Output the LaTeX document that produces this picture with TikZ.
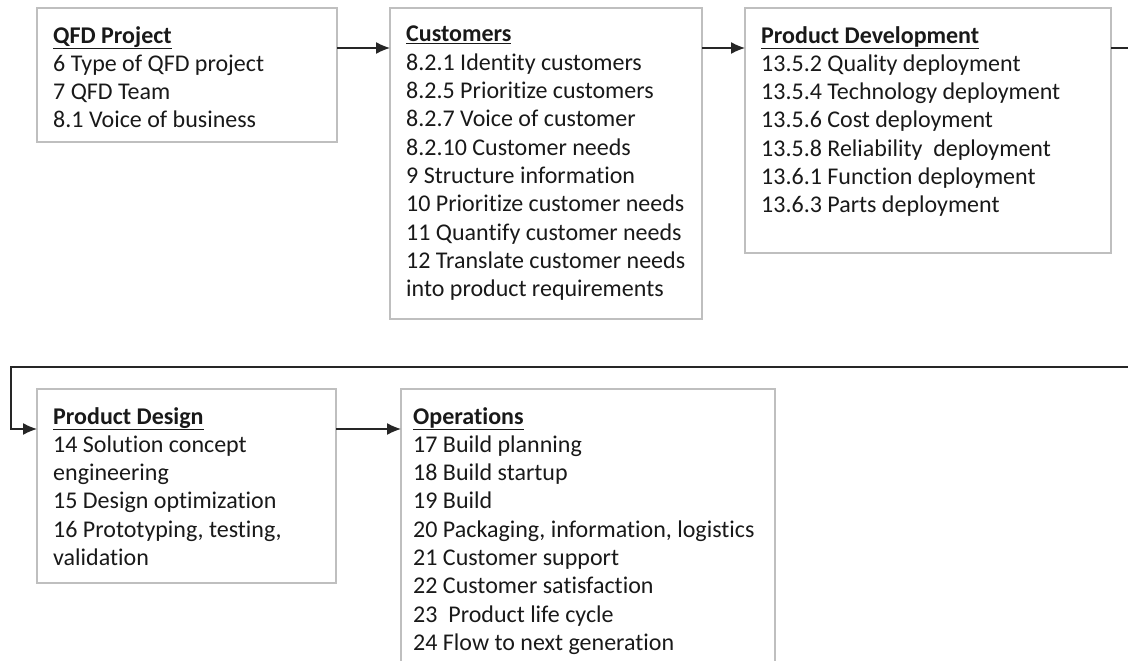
\documentclass[tikz,border=0pt]{standalone}
\usepackage{fontspec}
\setmainfont{Carlito}[Ligatures={NoCommon}]
\usetikzlibrary{arrows.meta}

\begin{document}
\begin{tikzpicture}[x=1pt,y=-1pt,
    box/.style={draw=black!25, line width=1.6pt, rectangle, anchor=north west,
      inner sep=0pt, outer sep=0pt},
    txt/.style={anchor=north west, inner sep=0pt, align=left, text=black!90,
      font=\fontsize{24}{28.3}\selectfont},
    arrow/.style={draw=black!85, line width=1.3pt,
      -{Latex[length=14pt,width=12pt]}}]
  \useasboundingbox (0,0) rectangle (1128,661);
  \clip (0,0) rectangle (1128,661);

  % boxes of the first row
  \node[box, minimum width=300pt, minimum height=134pt] (qfd)  at (37,8)  {};
  \node[box, minimum width=312pt, minimum height=311pt] (cust) at (390,8) {};
  \node[box, minimum width=366pt, minimum height=245pt] (pdev) at (745,8) {};
  % boxes of the second row
  \node[box, minimum width=299pt, minimum height=194pt] (pdes) at (37,389) {};
  \node[box, minimum width=374pt, minimum height=320pt] (ops)  at (401,389) {};

  % box contents
  \node[txt] (qfdtext) at ([xshift=16pt,yshift=-18pt]qfd.north west)
    {\underline{\textbf{QFD Project}}\\
     6 Type of QFD project\\
     7 QFD Team\\
     8.1 Voice of business};
  \node[txt] (custtext) at ([xshift=16pt,yshift=-18pt]cust.north west)
    {\underline{\textbf{Customers}}\\
     8.2.1 Identity customers\\
     8.2.5 Prioritize customers\\
     8.2.7 Voice of customer\\
     8.2.10 Customer needs\\
     9 Structure information\\
     10 Prioritize customer needs\\
     11 Quantify customer needs\\
     12 Translate customer needs\\
     into product requirements};
  \node[txt] (pdevtext) at ([xshift=16pt,yshift=-18pt]pdev.north west)
    {\underline{\textbf{Product Development}}\\
     13.5.2 Quality deployment\\
     13.5.4 Technology deployment\\
     13.5.6 Cost deployment\\
     13.5.8 Reliability\ \ deployment\\
     13.6.1 Function deployment\\
     13.6.3 Parts deployment};
  \node[txt] (pdestext) at ([xshift=16pt,yshift=-18pt]pdes.north west)
    {\underline{\textbf{Product Design}}\\
     14 Solution concept\\
     engineering\\
     15 Design optimization\\
     16 Prototyping, testing,\\
     validation};
  \node[txt] (opstext) at ([xshift=12pt,yshift=-18pt]ops.north west)
    {\underline{\textbf{Operations}}\\
     17 Build planning\\
     18 Build startup\\
     19 Build\\
     20 Packaging, information, logistics\\
     21 Customer support\\
     22 Customer satisfaction\\
     23\ \ Product life cycle\\
     24 Flow to next generation};

  % turning points of the connector that wraps to the second row
  \coordinate (turnR) at (1160,367);
  \coordinate (turnL) at (11,367);

  % connectors
  \draw[arrow] ([yshift=-40pt]qfd.north east) -- ([yshift=-40pt]cust.north west);
  \draw[arrow] ([yshift=-40pt]cust.north east) -- ([yshift=-40pt]pdev.north west);
  \draw[arrow] ([yshift=-40pt]pdev.north east) -| (turnR) -- (turnL)
    |- ([yshift=-40pt]pdes.north west);
  \draw[arrow] ([yshift=-40pt]pdes.north east) -- ([yshift=-40pt]ops.north west);
\end{tikzpicture}
\end{document}
